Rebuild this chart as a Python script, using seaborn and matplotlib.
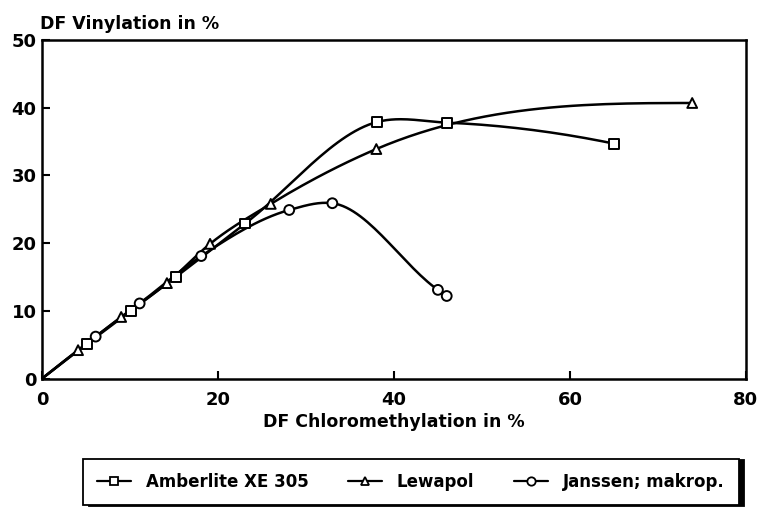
import numpy as np
import pandas as pd
import matplotlib
matplotlib.use("Agg")
import matplotlib.pyplot as plt
import seaborn as sns
from matplotlib.lines import Line2D

# values
amberlite_x = [0, 5.1, 10.1, 15.2, 23.1, 38.1, 46.0, 65.0]
amberlite_y = [0, 5.1, 10.0, 15.0, 22.9, 37.9, 37.8, 34.7]
lewapol_x = [0, 4.1, 9.0, 14.2, 19.1, 26.0, 38.0, 73.9]
lewapol_y = [0, 4.2, 9.1, 14.1, 19.9, 25.8, 33.9, 40.7]
janssen_x = [0, 6.1, 11.1, 18.1, 28.1, 33.0, 45.0, 46.0]
janssen_y = [0, 6.2, 11.1, 18.1, 24.9, 25.9, 13.1, 12.2]

series_names = ["Amberlite XE 305", "Lewapol", "Janssen; makrop."]
series_markers = ["s", "^", "o"]
x_ticks = [0, 20, 40, 60, 80]
y_ticks = [0, 10, 20, 30, 40, 50]


def smooth_curve(x, y, n=30):
    """Hermite-Kurve mit Bessel-Tangenten durch die Messpunkte"""
    x = np.asarray(x, float)
    y = np.asarray(y, float)
    h = np.diff(x)
    s = np.diff(y) / h
    m = np.empty_like(x)
    m[1:-1] = (h[1:] * s[:-1] + h[:-1] * s[1:]) / (h[:-1] + h[1:])
    m[0] = ((2 * h[0] + h[1]) * s[0] - h[0] * s[1]) / (h[0] + h[1])
    m[-1] = ((2 * h[-1] + h[-2]) * s[-1] - h[-1] * s[-2]) / (h[-2] + h[-1])
    if np.sign(m[0]) != np.sign(s[0]):
        m[0] = 0
    if np.sign(m[-1]) != np.sign(s[-1]):
        m[-1] = 0
    xs, ys = [], []
    for i in range(len(h)):
        t = np.linspace(0, 1, n, endpoint=(i == len(h) - 1))
        h00 = 2 * t**3 - 3 * t**2 + 1
        h10 = t**3 - 2 * t**2 + t
        h01 = -2 * t**3 + 3 * t**2
        h11 = t**3 - t**2
        xs.append(x[i] + t * h[i])
        ys.append(h00 * y[i] + h10 * h[i] * m[i] + h01 * y[i + 1] + h11 * h[i] * m[i + 1])
    return np.concatenate(xs), np.concatenate(ys)


points = pd.concat([
    pd.DataFrame({"x": amberlite_x, "y": amberlite_y, "series": series_names[0]}),
    pd.DataFrame({"x": lewapol_x, "y": lewapol_y, "series": series_names[1]}),
    pd.DataFrame({"x": janssen_x, "y": janssen_y, "series": series_names[2]}),
], ignore_index=True)

curves = []
for name, xv, yv in zip(series_names,
                        [amberlite_x, lewapol_x, janssen_x],
                        [amberlite_y, lewapol_y, janssen_y]):
    cx, cy = smooth_curve(xv, yv)
    curves.append(pd.DataFrame({"x": cx, "y": cy, "series": name}))
curves = pd.concat(curves, ignore_index=True)

sns.set_style("ticks")
plt.rcParams["font.family"] = ["DejaVu Sans"]
plt.rcParams["font.weight"] = "bold"
plt.rcParams["text.color"] = "black"
plt.rcParams["xtick.color"] = "black"
plt.rcParams["ytick.color"] = "black"
plt.rcParams["axes.labelcolor"] = "black"

fig = plt.figure(figsize=(7.58, 5.13), dpi=100)
ax = fig.add_axes([0.0554, 0.262, 0.9286, 0.66])

sns.lineplot(data=curves, x="x", y="y", units="series", estimator=None,
             sort=False, color="black", linewidth=1.8, ax=ax, legend=False)
sns.scatterplot(data=points[points["x"] > 0], x="x", y="y", style="series",
                markers=dict(zip(series_names, series_markers)),
                facecolor="white", edgecolor="black", linewidth=1.4,
                s=50, ax=ax, legend=False, zorder=3)

ax.set_xlim(0, 80)
ax.set_ylim(0, 50)
ax.set_xticks(x_ticks)
ax.set_yticks(y_ticks)
ax.tick_params(direction="in", length=6, width=1.5, labelsize=13, colors="black")
ax.tick_params(axis="x", pad=9)
ax.tick_params(axis="y", pad=4)
for lab in ax.get_xticklabels() + ax.get_yticklabels():
    lab.set_fontweight("bold")
for sp in ax.spines.values():
    sp.set_linewidth(1.8)
    sp.set_color("black")

ax.set_xlabel("DF Chloromethylation in %", fontsize=12.5, fontweight="bold",
              labelpad=3, color="black")
ax.set_ylabel("DF Vinylation in %", fontsize=12.5, fontweight="bold", color="black",
              rotation=0, ha="left", va="bottom")
ax.yaxis.set_label_coords(-0.003, 1.022)

handles = [Line2D([], [], color="black", linewidth=1.6, marker=mk, markersize=6,
                  markerfacecolor="white", markeredgecolor="black", markeredgewidth=1.3)
           for mk in series_markers]
leg = fig.legend(handles, series_names, loc="center", bbox_to_anchor=(0.542, 0.06),
                 ncol=3, frameon=True, fancybox=False, handlelength=2.0,
                 columnspacing=2.4, borderpad=0.85, handletextpad=0.9,
                 prop={"size": 12, "weight": "bold"},
                 shadow={"ox": 4, "oy": -0.6, "color": "black", "alpha": 1})
leg.get_frame().set_edgecolor("black")
leg.get_frame().set_linewidth(1.3)
for t in leg.get_texts():
    t.set_color("black")

fig.savefig("out.png", dpi=100)
